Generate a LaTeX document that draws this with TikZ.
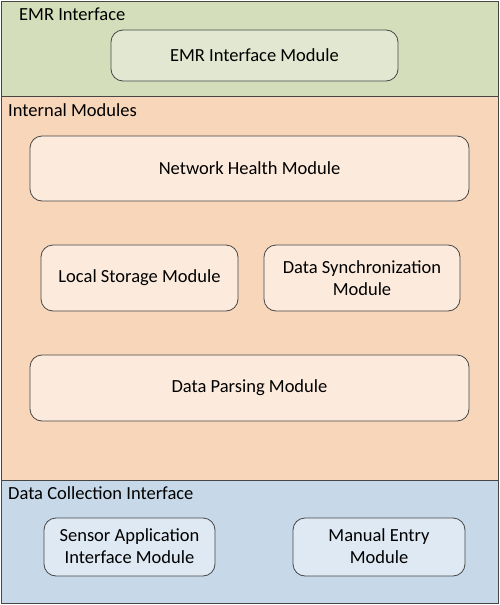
\documentclass[tikz,border=0pt]{standalone}
\usepackage{fontspec}
\setmainfont{Carlito}
\definecolor{emrbg}{RGB}{213,222,186}
\definecolor{emrbox}{RGB}{226,231,209}
\definecolor{intbg}{RGB}{248,214,186}
\definecolor{intbox}{RGB}{252,235,221}
\definecolor{dcbg}{RGB}{199,216,232}
\definecolor{dcbox}{RGB}{222,233,243}
\definecolor{edge}{RGB}{70,70,70}
\begin{document}
\begin{tikzpicture}[x=1pt,y=-1pt,
  region/.style={draw=edge,line width=1pt},
  modbox/.style={draw=edge,line width=0.8pt,rounded corners=12pt},
  lbl/.style={font=\fontsize{18.5}{22}\selectfont,text=black,align=center},
  title/.style={font=\fontsize{18.5}{22}\selectfont,text=black,anchor=west,inner sep=0pt}]
\useasboundingbox (0,0) rectangle (500,605);
% regions
\path[region,fill=emrbg] (1,1) rectangle (498,96);
\path[region,fill=intbg] (1,96) rectangle (498,480);
\path[region,fill=dcbg] (1,480) rectangle (498,603);
\node[title] (temr) at (19,14) {EMR Interface};
\node[title] (tint) at (8,110) {Internal Modules};
\node[title] (tdc) at (8,493) {Data Collection Interface};
% boxes
\path[modbox,fill=emrbox] (111,30) rectangle (398,81);
\node[lbl] (emr) at (254.5,55.5) {EMR Interface Module};
\path[modbox,fill=intbox] (30,136) rectangle (469,201);
\node[lbl] (nh) at (249.5,168.5) {Network Health Module};
\path[modbox,fill=intbox] (41,245) rectangle (238,311);
\node[lbl] (ls) at (139.5,278) {Local Storage Module};
\path[modbox,fill=intbox] (264,245) rectangle (460,311);
\node[lbl] (ds) at (362,278) {Data Synchronization\\Module};
\path[modbox,fill=intbox] (30,355) rectangle (469,421);
\node[lbl] (dp) at (249.5,388) {Data Parsing Module};
\path[modbox,fill=dcbox] (44,518) rectangle (215,576);
\node[lbl] (sa) at (129.5,546) {Sensor Application\\Interface Module};
\path[modbox,fill=dcbox] (293,518) rectangle (465,576);
\node[lbl] (me) at (379,546) {Manual Entry\\Module};
\end{tikzpicture}
\end{document}
